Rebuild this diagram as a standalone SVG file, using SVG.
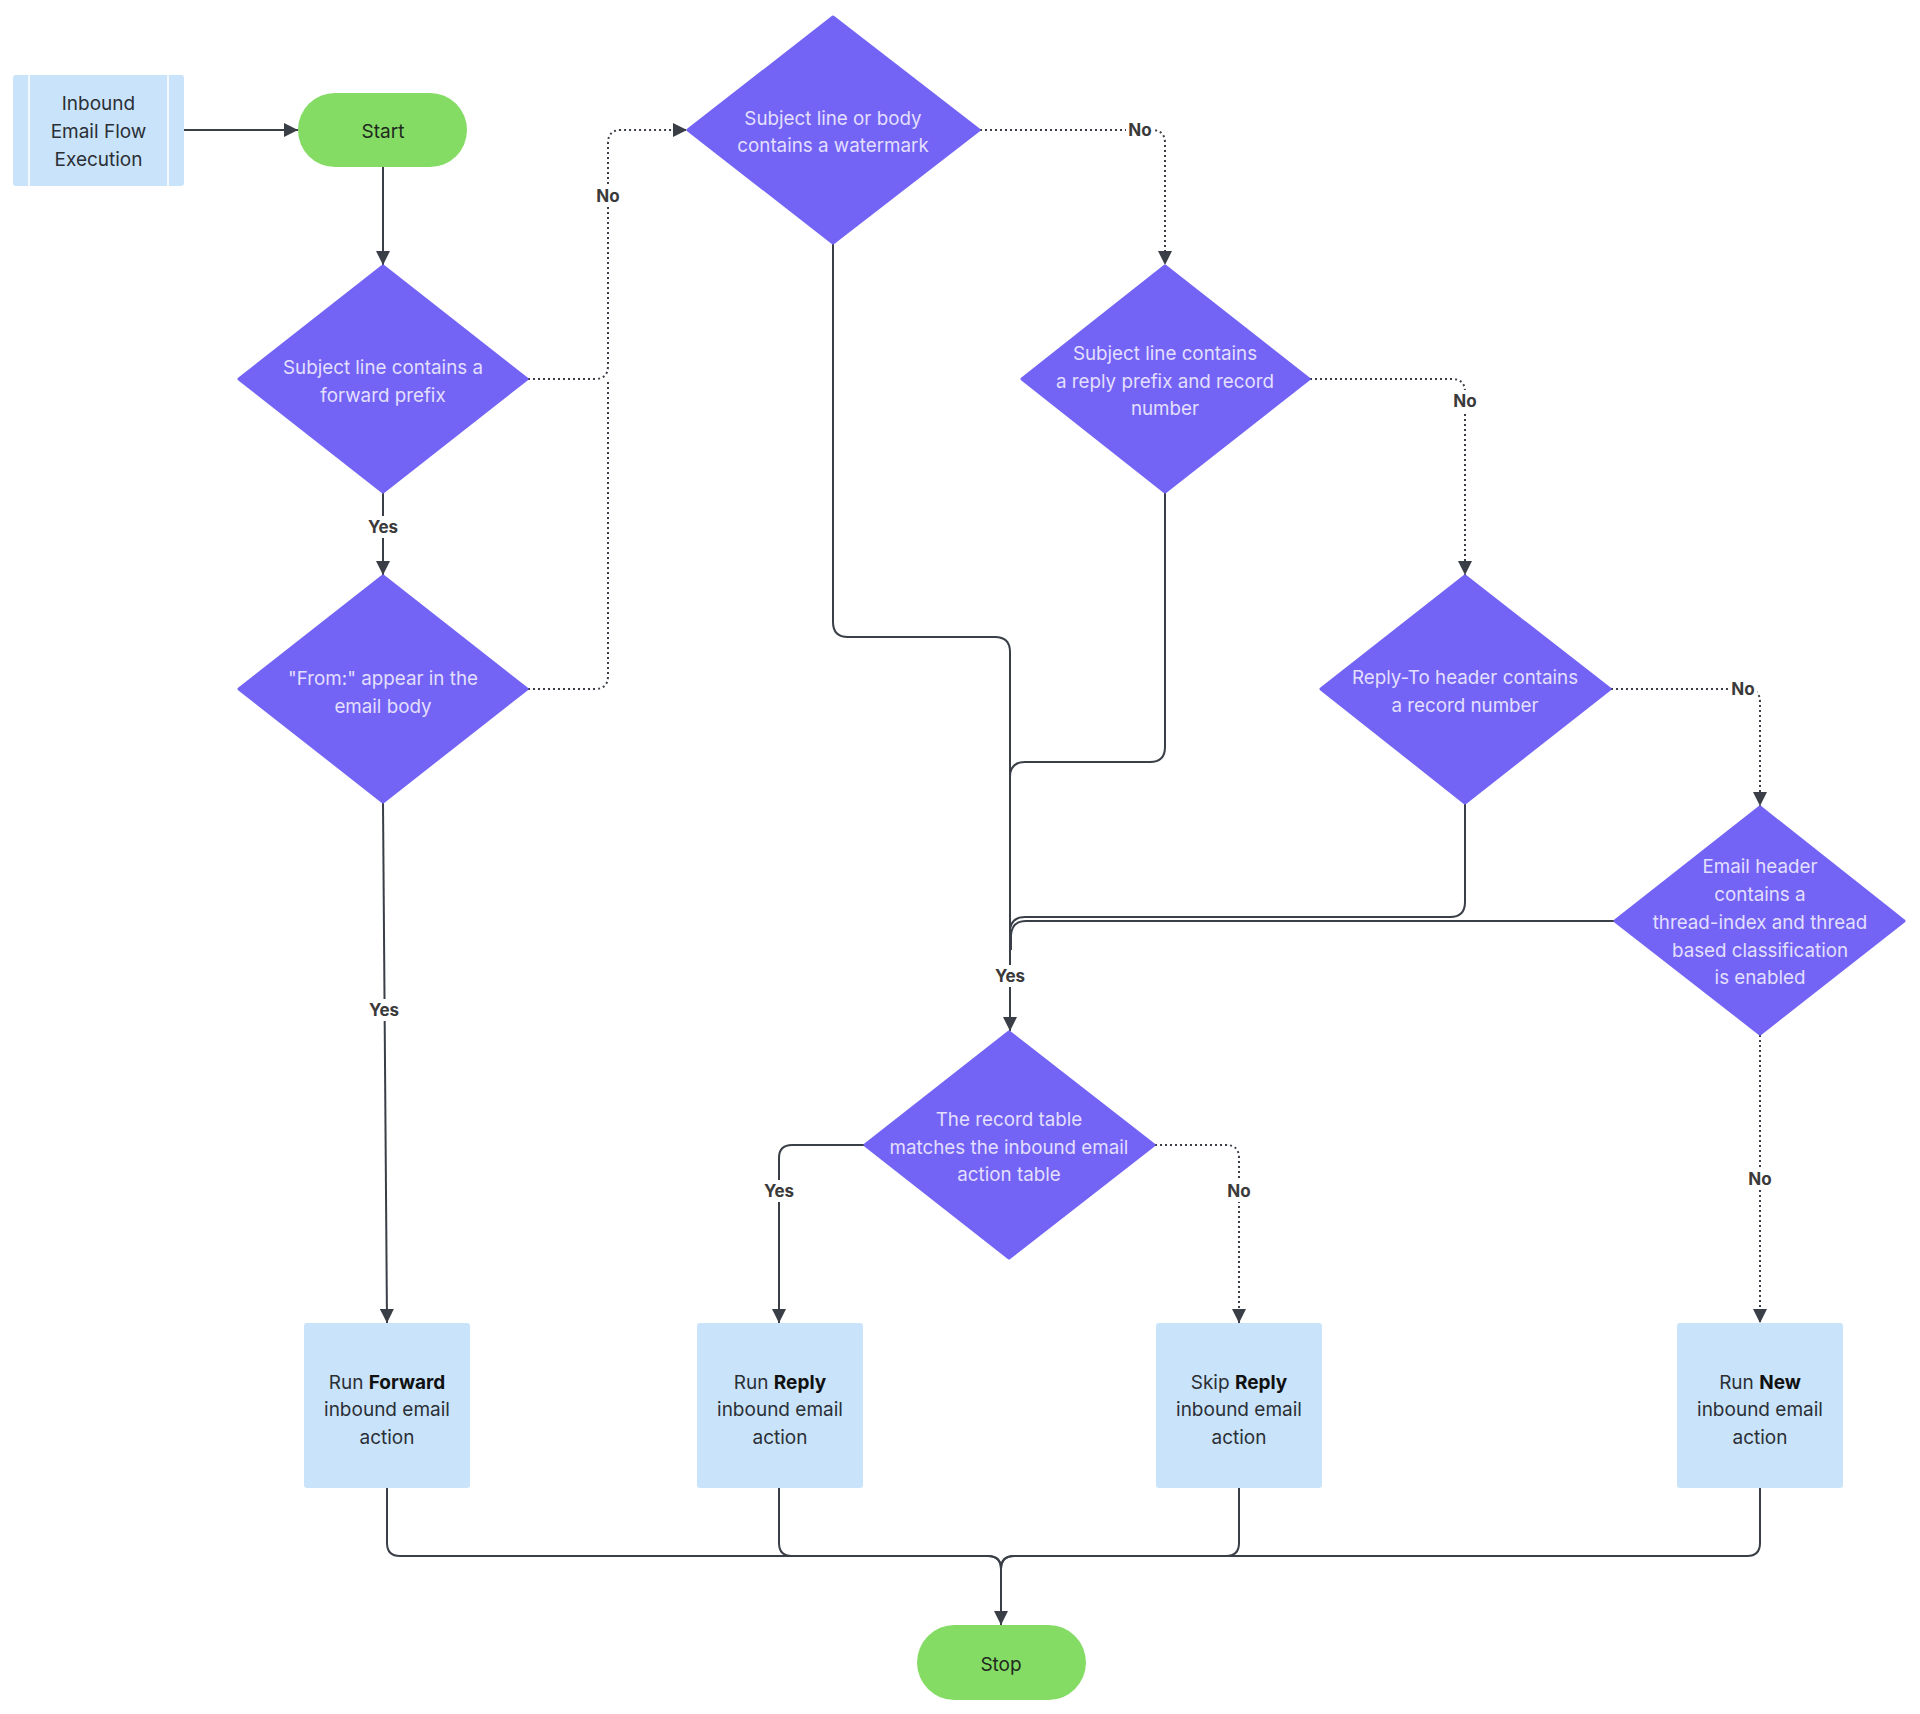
<svg xmlns="http://www.w3.org/2000/svg" width="1920" height="1714" viewBox="0 0 1920 1714">
<defs>
<style>
.dia{fill:#7364f5;stroke:#7364f5;stroke-width:3;stroke-linejoin:round}
.dt{font-family:Inter,"Noto Sans",sans-serif;font-size:18.8px;fill:#e3dfff;text-anchor:middle}
.box{fill:#c9e4fa}
.bt{font-family:Inter,"Noto Sans",sans-serif;font-size:19px;fill:#2b2f36;text-anchor:middle}
.term{fill:#84dc64}
.tt{font-family:Inter,"Noto Sans",sans-serif;font-size:19px;fill:#1f2a1f;text-anchor:middle}
.ln{fill:none;stroke:#3a3f47;stroke-width:2}
.dot{fill:none;stroke:#3a3f47;stroke-width:2;stroke-dasharray:2 3}
.lb{font-family:Inter,"Noto Sans",sans-serif;font-size:17px;font-weight:bold;fill:#3a3a3a;text-anchor:middle}
.lbg{fill:#ffffff}
</style>
<marker id="arr" markerWidth="14" markerHeight="14" viewBox="0 0 14 14" refX="14" refY="7" orient="auto" markerUnits="userSpaceOnUse"><path d="M0,0 L14,7 L0,14 z" fill="#3a3f47"/></marker>
</defs>
<rect width="1920" height="1714" fill="#ffffff"/>

<g id="connectors">
<path class="ln" d="M184,130 H298" marker-end="url(#arr)"/>
<path class="ln" d="M383,167 V265" marker-end="url(#arr)"/>
<path class="ln" d="M383,493 V575" marker-end="url(#arr)"/>
<path class="ln" d="M383,803 L387,1323" marker-end="url(#arr)"/>
<path class="dot" d="M528,379 H595 Q608,379 608,366 V143 Q608,130 621,130 H687" marker-end="url(#arr)"/>
<path class="dot" d="M528,689 H595 Q608,689 608,676 V379"/>
<path class="dot" d="M980,130 H1152 Q1165,130 1165,143 V265" marker-end="url(#arr)"/>
<path class="ln" d="M833,244 V622 Q833,637 848,637 H995 Q1010,637 1010,652 V1031" marker-end="url(#arr)"/>
<path class="ln" d="M1165,493 V747 Q1165,762 1150,762 H1025 Q1010,762 1010,777 V800"/>
<path class="dot" d="M1310,379 H1452 Q1465,379 1465,392 V575" marker-end="url(#arr)"/>
<path class="ln" d="M1465,804 V902 Q1465,917 1450,917 H1025 Q1010,917 1010,932 V950"/>
<path class="ln" d="M1614,921 H1026 Q1012,921 1011,935 V950"/>
<path class="dot" d="M1611,689 H1747 Q1760,689 1760,702 V806" marker-end="url(#arr)"/>
<path class="dot" d="M1760,1035 V1323" marker-end="url(#arr)"/>
<path class="ln" d="M864,1145 H792 Q779,1145 779,1158 V1323" marker-end="url(#arr)"/>
<path class="dot" d="M1155,1145 H1226 Q1239,1145 1239,1158 V1323" marker-end="url(#arr)"/>
<path class="ln" d="M387,1488 V1543 Q387,1556 400,1556 H988 Q1001,1556 1001,1569 V1625" marker-end="url(#arr)"/>
<path class="ln" d="M779,1488 V1543 Q779,1556 792,1556 H988 Q1001,1556 1001,1569 V1625"/>
<path class="ln" d="M1239,1488 V1543 Q1239,1556 1226,1556 H1014 Q1001,1556 1001,1569 V1625"/>
<path class="ln" d="M1760,1488 V1543 Q1760,1556 1747,1556 H1014 Q1001,1556 1001,1569 V1625"/>
<rect class="lbg" x="365" y="516" width="36" height="22"/><text class="lb" x="383" y="533">Yes</text>
<rect class="lbg" x="366" y="999" width="36" height="22"/><text class="lb" x="384" y="1016">Yes</text>
<rect class="lbg" x="594" y="185" width="28" height="22"/><text class="lb" x="608" y="202">No</text>
<rect class="lbg" x="1126" y="119" width="28" height="22"/><text class="lb" x="1140" y="136">No</text>
<rect class="lbg" x="1451" y="390" width="28" height="22"/><text class="lb" x="1465" y="407">No</text>
<rect class="lbg" x="1729" y="678" width="28" height="22"/><text class="lb" x="1743" y="695">No</text>
<rect class="lbg" x="1746" y="1168" width="28" height="22"/><text class="lb" x="1760" y="1185">No</text>
<rect class="lbg" x="992" y="965" width="36" height="22"/><text class="lb" x="1010" y="982">Yes</text>
<rect class="lbg" x="761" y="1180" width="36" height="22"/><text class="lb" x="779" y="1197">Yes</text>
<rect class="lbg" x="1225" y="1180" width="28" height="22"/><text class="lb" x="1239" y="1197">No</text>
</g>

<g id="inbound">
<rect class="box" x="13" y="75" width="171" height="111" rx="3"/>
<line x1="29" y1="75" x2="29" y2="186" stroke="#ffffff" stroke-width="1.5"/>
<line x1="168" y1="75" x2="168" y2="186" stroke="#ffffff" stroke-width="1.5"/>
<text class="bt" x="98.5" y="110">Inbound</text>
<text class="bt" x="98.5" y="138">Email Flow</text>
<text class="bt" x="98.5" y="166">Execution</text>
</g>

<g id="start">
<rect class="term" x="298" y="93" width="169" height="74" rx="37"/>
<text class="tt" x="383" y="138">Start</text>
</g>

<g id="d-forward-prefix">
<polygon class="dia" points="383,266 527,379 383,492 239,379"/>
<text class="dt" x="383" y="374">Subject line contains a</text>
<text class="dt" x="383" y="402">forward prefix</text>
</g>

<g id="d-from">
<polygon class="dia" points="383,576 527,689 383,802 239,689"/>
<text class="dt" x="383" y="685">"From:" appear in the</text>
<text class="dt" x="383" y="713">email body</text>
</g>

<g id="d-watermark">
<polygon class="dia" points="833,17 979,130 833,243 688,130"/>
<text class="dt" x="833" y="125">Subject line or body</text>
<text class="dt" x="833" y="152">contains a watermark</text>
</g>

<g id="d-reply-prefix">
<polygon class="dia" points="1165,266 1309,379 1165,492 1022,379"/>
<text class="dt" x="1165" y="360">Subject line contains</text>
<text class="dt" x="1165" y="388">a reply prefix and record</text>
<text class="dt" x="1165" y="415">number</text>
</g>

<g id="d-reply-to">
<polygon class="dia" points="1465,576 1610,689 1465,803 1321,689"/>
<text class="dt" x="1465" y="684">Reply-To header contains</text>
<text class="dt" x="1465" y="712">a record number</text>
</g>

<g id="d-thread">
<polygon class="dia" points="1760,807 1904,921 1760,1034 1615,921"/>
<text class="dt" x="1760" y="873">Email header</text>
<text class="dt" x="1760" y="901">contains a</text>
<text class="dt" x="1760" y="929">thread-index and thread</text>
<text class="dt" x="1760" y="957">based classification</text>
<text class="dt" x="1760" y="984">is enabled</text>
</g>

<g id="d-record-table">
<polygon class="dia" points="1009,1032 1154,1145 1009,1258 865,1145"/>
<text class="dt" x="1009" y="1126">The record table</text>
<text class="dt" x="1009" y="1154">matches the inbound email</text>
<text class="dt" x="1009" y="1181">action table</text>
</g>

<g id="run-forward">
<rect class="box" x="304" y="1323" width="166" height="165" rx="3"/>
<text class="bt" x="387" y="1389">Run <tspan font-weight="bold" fill="#111">Forward</tspan></text>
<text class="bt" x="387" y="1416">inbound email</text>
<text class="bt" x="387" y="1444">action</text>
</g>

<g id="run-reply">
<rect class="box" x="697" y="1323" width="166" height="165" rx="3"/>
<text class="bt" x="780" y="1389">Run <tspan font-weight="bold" fill="#111">Reply</tspan></text>
<text class="bt" x="780" y="1416">inbound email</text>
<text class="bt" x="780" y="1444">action</text>
</g>

<g id="skip-reply">
<rect class="box" x="1156" y="1323" width="166" height="165" rx="3"/>
<text class="bt" x="1239" y="1389">Skip <tspan font-weight="bold" fill="#111">Reply</tspan></text>
<text class="bt" x="1239" y="1416">inbound email</text>
<text class="bt" x="1239" y="1444">action</text>
</g>

<g id="run-new">
<rect class="box" x="1677" y="1323" width="166" height="165" rx="3"/>
<text class="bt" x="1760" y="1389">Run <tspan font-weight="bold" fill="#111">New</tspan></text>
<text class="bt" x="1760" y="1416">inbound email</text>
<text class="bt" x="1760" y="1444">action</text>
</g>

<g id="stop">
<rect class="term" x="917" y="1625" width="169" height="75" rx="37.5"/>
<text class="tt" x="1001" y="1671">Stop</text>
</g>
</svg>
